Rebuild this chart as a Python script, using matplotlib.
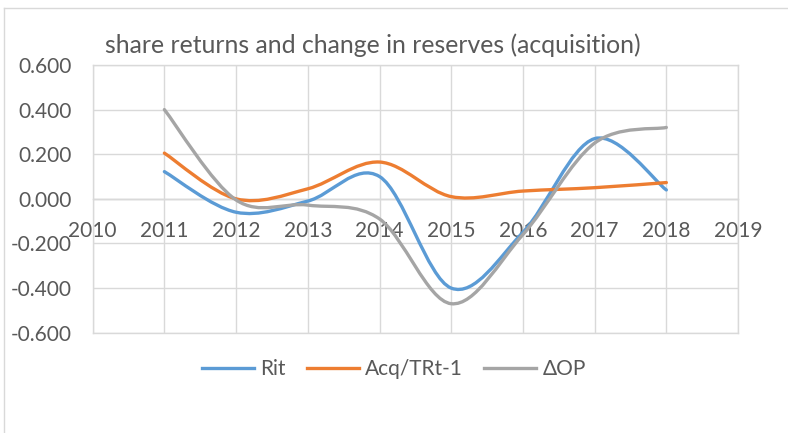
import matplotlib
matplotlib.use("Agg")
import matplotlib.pyplot as plt
from matplotlib.path import Path
from matplotlib.patches import PathPatch
from matplotlib.lines import Line2D
from matplotlib.ticker import FormatStrFormatter, MultipleLocator

plt.rcParams['font.family'] = ['Lato', 'DejaVu Sans']
plt.rcParams['axes.unicode_minus'] = False

# data
years = [2011, 2012, 2013, 2014, 2015, 2016, 2017, 2018]
rit = [0.122, -0.060, -0.010, 0.100, -0.400, -0.150, 0.270, 0.040]
acq = [0.205, 0.000, 0.045, 0.165, 0.010, 0.035, 0.050, 0.073]
dop = [0.400, -0.005, -0.028, -0.090, -0.470, -0.160, 0.250, 0.320]
labels = ['Rit', 'Acq/TRt-1', '\u0394OP']
colors = ['#5B9BD5', '#ED7D31', '#A5A5A5']
text_col = '#595959'
grid_col = '#D9D9D9'


def smooth_path(xs, ys):
    # Excel style smoothed line: cubic bezier segments through each point
    pts = list(zip(xs, ys))
    n = len(pts)
    verts = [pts[0]]
    codes = [Path.MOVETO]
    for i in range(n - 1):
        p0 = pts[i - 1] if i > 0 else pts[i]
        p1 = pts[i]
        p2 = pts[i + 1]
        p3 = pts[i + 2] if i + 2 < n else pts[i + 1]
        c1 = (p1[0] + (p2[0] - p0[0]) / 6, p1[1] + (p2[1] - p0[1]) / 6)
        c2 = (p2[0] - (p3[0] - p1[0]) / 6, p2[1] - (p3[1] - p1[1]) / 6)
        verts += [c1, c2, p2]
        codes += [Path.CURVE4] * 3
    return Path(verts, codes)


fig = plt.figure(figsize=(7.88, 4.33), dpi=100)
ax = fig.add_axes([0.1176, 0.2316, 0.819, 0.6183])

for ys, c in zip([rit, acq, dop], colors):
    ax.add_patch(PathPatch(smooth_path(years, ys), facecolor='none',
                           edgecolor=c, lw=2.4, capstyle='round', zorder=3))

ax.set_xlim(2010, 2019)
ax.set_ylim(-0.6, 0.6)
ax.yaxis.set_major_locator(MultipleLocator(0.2))
ax.yaxis.set_major_formatter(FormatStrFormatter('%.3f'))
ax.set_xticks(range(2010, 2020))
ax.grid(True, color=grid_col, lw=1)
ax.set_axisbelow(True)
for s in ax.spines.values():
    s.set_color(grid_col)
    s.set_linewidth(1)
ax.tick_params(axis='x', bottom=False, labelbottom=False)
ax.tick_params(axis='y', length=0, pad=15, labelsize=15, labelcolor=text_col)

# category axis crossing at zero
sec = ax.secondary_xaxis(0.5)
sec.set_xticks(range(2010, 2020))
sec.xaxis.set_ticks_position('bottom')
for s in sec.spines.values():
    s.set_color('#BFBFBF')
    s.set_linewidth(1)
sec.tick_params(length=0, pad=16, labelsize=15, labelcolor=text_col)

fig.text(0.473, 0.896, 'share returns and change in reserves (acquisition)',
         ha='center', va='center', fontsize=17.8, color=text_col)

handles = [Line2D([0], [0], color=c, lw=2.4) for c in colors]
fig.legend(handles, labels, loc='center', bbox_to_anchor=(0.5, 0.148), ncol=3,
           frameon=False, fontsize=15, labelcolor=text_col, handlelength=2.5,
           handletextpad=0.3, columnspacing=1.0)

# chart area border (cropped at right and bottom)
fig.add_artist(Line2D([0.005, 0.005], [0, 0.982], color=grid_col, lw=1))
fig.add_artist(Line2D([0.005, 1], [0.982, 0.982], color=grid_col, lw=1))

fig.savefig('out.png', dpi=100)
